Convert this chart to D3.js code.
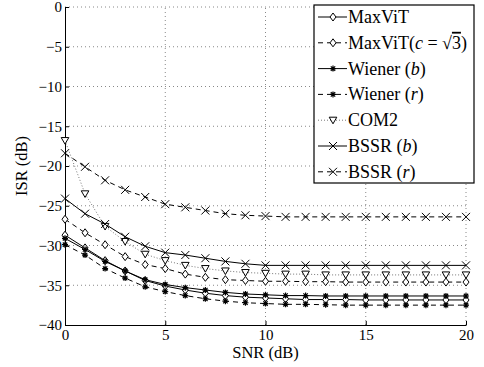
<!DOCTYPE html>
<html><head><meta charset="utf-8">
<script src="https://cdn.jsdelivr.net/npm/d3@7"></script>
<style>body{margin:0;background:#fff}svg{display:block}svg text{font-family:"Liberation Serif","Times New Roman",serif !important;fill:#000}</style>
</head><body><svg id="c" width="484" height="367"></svg>
<script>
const snr = [0,1,2,3,4,5,6,7,8,9,10,11,12,13,14,15,16,17,18,19,20];
const maxvit  = [-28.7,-30.3,-31.9,-33.2,-34.4,-35.1,-35.6,-36.0,-36.3,-36.5,-36.6,-36.7,-36.8,-36.8,-36.8,-36.85,-36.85,-36.85,-36.85,-36.85,-36.85];
const maxvitC = [-26.7,-28.4,-29.9,-31.4,-32.4,-32.9,-33.6,-34.0,-34.3,-34.4,-34.5,-34.5,-34.55,-34.55,-34.6,-34.6,-34.6,-34.6,-34.6,-34.6,-34.6];
const wienerB = [-29.1,-30.5,-32.0,-33.2,-34.3,-34.9,-35.3,-35.6,-35.9,-36.1,-36.2,-36.3,-36.3,-36.35,-36.35,-36.35,-36.35,-36.35,-36.35,-36.35,-36.35];
const wienerR = [-29.9,-31.2,-32.9,-34.1,-35.2,-35.8,-36.3,-36.7,-37.0,-37.2,-37.3,-37.4,-37.4,-37.45,-37.5,-37.5,-37.5,-37.5,-37.5,-37.5,-37.5];
const com2    = [-16.8,-23.5,-27.6,-29.5,-31.1,-31.9,-32.5,-32.9,-33.2,-33.4,-33.5,-33.6,-33.6,-33.7,-33.7,-33.7,-33.7,-33.7,-33.7,-33.7,-33.7];
const bssrB   = [-24.1,-26.0,-27.3,-28.9,-30.1,-30.9,-31.2,-31.6,-32.0,-32.3,-32.5,-32.5,-32.5,-32.5,-32.5,-32.5,-32.5,-32.5,-32.5,-32.5,-32.5];
const bssrR   = [-18.4,-20.1,-21.8,-23.0,-23.9,-24.8,-25.2,-25.6,-26.0,-26.2,-26.3,-26.4,-26.4,-26.4,-26.4,-26.4,-26.4,-26.4,-26.4,-26.4,-26.4];
const xTicks = [0,5,10,15,20];
const yTicks = [0,-5,-10,-15,-20,-25,-30,-35,-40];

const series = [
  {name:[["MaxViT",""]], data:maxvit, dash:null, marker:"diamond"},
  {name:[["MaxViT(",""],["c","i"],[" = √",""],["3","o"],[")",""]], data:maxvitC, dash:"5,4", marker:"diamond"},
  {name:[["Wiener (",""],["b","i"],[")",""]], data:wienerB, dash:null, marker:"star"},
  {name:[["Wiener (",""],["r","i"],[")",""]], data:wienerR, dash:"5,4", marker:"star"},
  {name:[["COM2",""]], data:com2, dash:"1,2", marker:"tri", gray:true},
  {name:[["BSSR (",""],["b","i"],[")",""]], data:bssrB, dash:null, marker:"x"},
  {name:[["BSSR (",""],["r","i"],[")",""]], data:bssrR, dash:"5,4", marker:"x"}
];

const FONT = '"Liberation Serif","Times New Roman",serif';
const svg = d3.select("#c");
const L=65, R=466, T=7, B=325;
const x = d3.scaleLinear().domain([0,20]).range([L,R]);
const y = d3.scaleLinear().domain([-40,0]).range([B,T]);

// grid
const g = svg.append("g");
g.selectAll(".gx").data(xTicks.slice(1)).join("line")
  .attr("x1",d=>x(d)).attr("x2",d=>x(d)).attr("y1",B).attr("y2",T)
  .attr("stroke","#888").attr("stroke-width",1).attr("stroke-dasharray","1,3");
g.selectAll(".gy").data(yTicks.slice(0,-1)).join("line")
  .attr("y1",d=>y(d)).attr("y2",d=>y(d)).attr("x1",L).attr("x2",R)
  .attr("stroke","#888").attr("stroke-width",1).attr("stroke-dasharray","1,3");

// axes
const fmt = d=> d<0 ? "\u2212"+Math.abs(d) : String(d);
const xa = svg.append("g").attr("transform",`translate(0,${B})`)
  .call(d3.axisBottom(x).tickValues(xTicks).tickSizeInner(-4).tickSizeOuter(0).tickPadding(4).tickFormat(fmt));
const ya = svg.append("g").attr("transform",`translate(${L},0)`)
  .call(d3.axisLeft(y).tickValues(yTicks).tickSizeInner(-4).tickSizeOuter(0).tickPadding(3).tickFormat(fmt));
[xa,ya].forEach(a=>{a.attr("font-family",FONT).attr("font-size",15);a.select(".domain").attr("stroke","#000");a.selectAll("text").attr("fill","#000");a.selectAll(".tick line").attr("stroke","#000");});

svg.append("text").attr("x",(L+R)/2).attr("y",358).attr("text-anchor","middle").attr("font-family",FONT).attr("font-size",16.5).text("SNR (dB)");
svg.append("text").attr("transform",`translate(27,${(T+B)/2}) rotate(-90)`).attr("text-anchor","middle").attr("font-family",FONT).attr("font-size",16.5).text("ISR (dB)");

function marker(sel, type){
  if(type==="diamond") sel.append("path").attr("d","M0,-4L3,0L0,4L-3,0Z").attr("fill","#fff").attr("stroke","#000").attr("stroke-width",1);
  else if(type==="tri") sel.append("path").attr("d","M-3.8,-3L3.8,-3L0,3.6Z").attr("fill","#fff").attr("stroke","#000").attr("stroke-width",1);
  else if(type==="x") sel.append("path").attr("d","M-4,-4L4,4M-4,4L4,-4").attr("stroke","#000").attr("stroke-width",1);
  else if(type==="star") sel.append("path").attr("d","M-3,0L3,0M0,-3L0,3M-2.2,-2.2L2.2,2.2M-2.2,2.2L2.2,-2.2").attr("stroke","#000").attr("stroke-width",1.2);
}

const line = d3.line().x((d,i)=>x(snr[i])).y(d=>y(d));
const plot = svg.append("g");
series.forEach(s=>{
  plot.append("path").attr("d",line(s.data)).attr("fill","none")
    .attr("stroke", s.gray?"#777":"#000").attr("stroke-width",1)
    .attr("stroke-dasharray",s.dash);
});
series.forEach(s=>{
  s.data.forEach((v,i)=>{
    const m = plot.append("g").attr("transform",`translate(${x(snr[i])},${y(v)})`);
    marker(m,s.marker);
  });
});

// legend
const lg = svg.append("g");
const LX=314, LY=5, LW=160, LH=178, step=25.8;
lg.append("rect").attr("x",LX).attr("y",LY).attr("width",LW).attr("height",LH).attr("fill","#fff").attr("stroke","#000").attr("stroke-width",1.2);
series.forEach((s,k)=>{
  const yy = LY+12+k*step;
  lg.append("line").attr("x1",LX+4).attr("x2",LX+33).attr("y1",yy).attr("y2",yy)
    .attr("stroke",s.gray?"#777":"#000").attr("stroke-width",1).attr("stroke-dasharray",s.dash);
  marker(lg.append("g").attr("transform",`translate(${LX+19},${yy})`), s.marker);
  const t = lg.append("text").attr("x",LX+34).attr("y",yy+6).attr("font-family",FONT).attr("font-size",18);
  s.name.forEach(([txt,st])=>{
    const ts = t.append("tspan").text(txt);
    if(st==="i") ts.attr("font-style","italic");
    if(st==="o") ts.attr("text-decoration","overline");
  });
});
</script></body></html>
